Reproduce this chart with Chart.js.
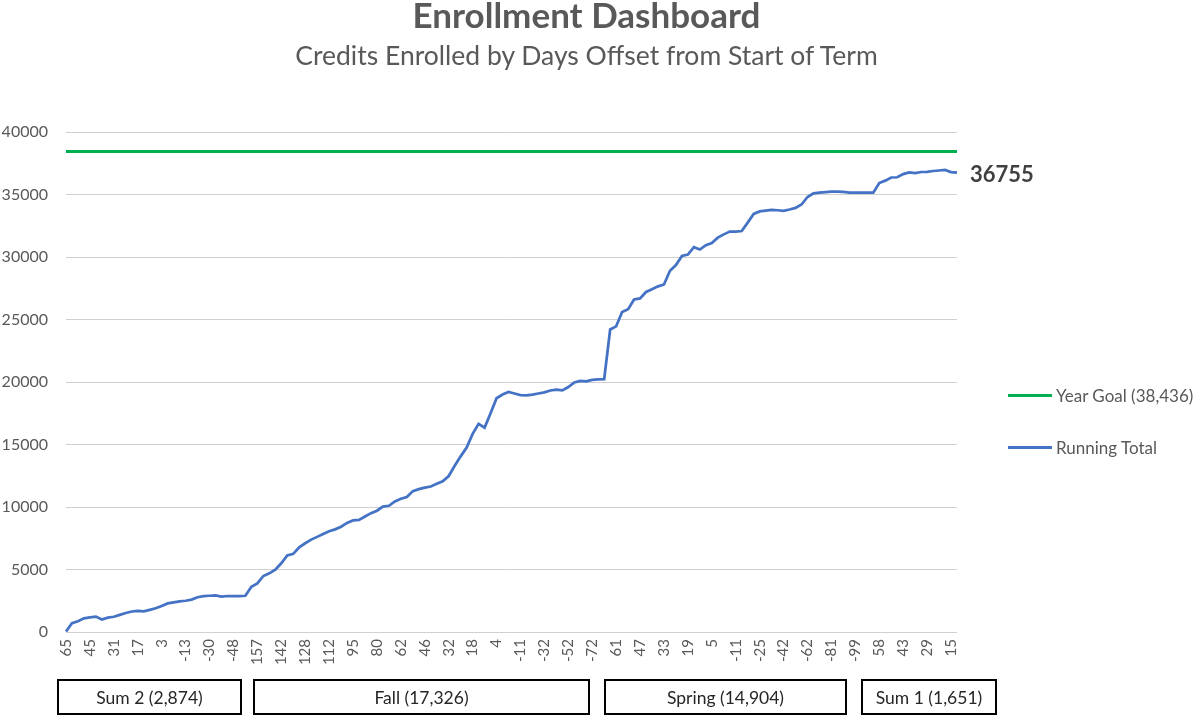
<!DOCTYPE html>
<html>
<head>
<meta charset="utf-8">
<script src="https://cdn.jsdelivr.net/npm/chart.js@4"></script>
<style>
  html, body { margin: 0; padding: 0; background: #fff; }
  #wrap { position: relative; width: 1195px; height: 715px; overflow: hidden; font-family: Lato, "Open Sans", sans-serif; }
  #c { position: absolute; left: 0; top: 0; }
  .title { position: absolute; left: 0; width: 1173px; text-align: center; color: #595959; white-space: nowrap; line-height: 1.2; }
  #t1 { top: -7px; font-size: 35px; font-weight: bold; }
  #t2 { top: 40px; font-size: 26.5px; }
  .box { position: absolute; top: 679px; border: 2px solid #000; box-sizing: border-box; height: 36px;
         display: flex; align-items: center; justify-content: center; font-size: 17.5px; color: #262626; white-space: nowrap; }
  .leg { position: absolute; left: 1008px; height: 20px; display: flex; align-items: center; font-size: 17px; color: #595959; white-space: nowrap; }
  .leg span.ln { display: inline-block; width: 44px; height: 3px; margin-right: 4px; }
</style>
</head>
<body>
<div id="wrap">
  <canvas id="c" width="1195" height="715"></canvas>
  <div class="title" id="t1">Enrollment Dashboard</div>
  <div class="title" id="t2">Credits Enrolled by Days Offset from Start of Term</div>
  <div id="legend"></div>
  <div id="boxes"></div>
</div>
<script>
// ---- data ----
const days = [
  65, 60, 55, 50, 45, 41, 38, 34, 31, 27, 24, 20, 17, 13, 10, 6, 3, -1, -5, -9,
  -13, -17, -21, -26, -30, -35, -39, -44, -48, -53, -58,
  161, 157, 153, 149, 146, 142, 139, 135, 132, 128, 124, 120, 116, 112, 108, 104, 99, 95, 91,
  87, 84, 80, 75, 71, 66, 62, 58, 54, 50, 46, 42, 39, 35, 32, 28, 25, 21, 18, 14,
  11, 7, 4, 0, -3, -7, -11, -16, -21, -27, -32, -37, -42, -47, -52, -57, -62, -67, -72, -77, -82,
  65, 61, 57, 54, 50, 47, 43, 40, 36, 33, 29, 26, 22, 19, 15, 12, 8, 5, 1, -3,
  -7, -11, -14, -18, -21, -25, -29, -34, -38, -42, -47, -52, -57, -62, -67, -72, -76, -81, -85, -90,
  -94, -99, -103, -107, -111,
  58, 54, 50, 47, 43, 39, 36, 32, 29, 25, 22, 18, 15, 11
];
const runningTotal = [
  40, 700, 860, 1090, 1170, 1230, 1000, 1150, 1220, 1370,
  1520, 1640, 1690, 1650, 1770, 1900, 2080, 2290, 2370, 2450,
  2500, 2590, 2780, 2870, 2900, 2920, 2830, 2880, 2880, 2880,
  2900, 3620, 3890, 4480, 4690, 4980, 5500, 6130, 6250, 6780,
  7100, 7390, 7610, 7840, 8060, 8210, 8420, 8730, 8930, 8970,
  9240, 9510, 9700, 10030, 10100, 10450, 10660, 10800, 11270, 11430,
  11550, 11640, 11860, 12050, 12480, 13300, 14050, 14750, 15850, 16650,
  16350, 17500, 18700, 19000, 19200, 19080, 18950, 18940, 18990, 19080,
  19170, 19320, 19380, 19330, 19600, 19960, 20080, 20060, 20170, 20210,
  20230, 24200, 24450, 25600, 25820, 26600, 26690, 27200, 27420, 27650,
  27800, 28900, 29350, 30080, 30200, 30780, 30600, 30950, 31110, 31550,
  31810, 32030, 32030, 32080, 32750, 33450, 33650, 33710, 33760, 33740,
  33700, 33800, 33930, 34200, 34800, 35090, 35150, 35190, 35230, 35230,
  35210, 35150, 35150, 35150, 35150, 35150, 35920, 36110, 36360, 36380,
  36630, 36760, 36720, 36800, 36810, 36880, 36920, 36960, 36790, 36755
];
const GOAL = 38436;
const yTickValues = [0, 5000, 10000, 15000, 20000, 25000, 30000, 35000, 40000];
const termNames = ['Sum 2', 'Fall', 'Spring', 'Sum 1'];
const termTotals = [2874, 17326, 14904, 1651];
const LABEL_EVERY = 4;

// ---- layout helpers (positions/styles) ----
const termBoxes = [[57, 185], [253, 337], [604, 243], [861, 136]];
const fmt = n => n.toLocaleString('en-US');

const boxesEl = document.getElementById('boxes');
termNames.forEach((n, i) => {
  const d = document.createElement('div');
  d.className = 'box';
  d.style.left = termBoxes[i][0] + 'px';
  d.style.width = termBoxes[i][1] + 'px';
  d.textContent = n + ' (' + fmt(termTotals[i]) + ')';
  boxesEl.appendChild(d);
});

const legendItems = [
  { text: 'Year Goal (' + fmt(GOAL) + ')', color: '#00B050', top: 385 },
  { text: 'Running Total', color: '#4472C4', top: 437 }
];
const legEl = document.getElementById('legend');
legendItems.forEach(it => {
  const d = document.createElement('div');
  d.className = 'leg';
  d.style.top = it.top + 'px';
  d.innerHTML = '<span class="ln" style="background:' + it.color + '"></span>';
  d.appendChild(document.createTextNode(it.text));
  legEl.appendChild(d);
});

const endLabel = {
  id: 'endLabel',
  afterDatasetsDraw(chart) {
    const meta = chart.getDatasetMeta(1);
    const pts = meta.data;
    const last = pts[pts.length - 1];
    const ds = chart.data.datasets[1].data;
    const ctx = chart.ctx;
    ctx.save();
    ctx.font = 'bold 22px Lato, "Open Sans", sans-serif';
    ctx.fillStyle = '#404040';
    ctx.textAlign = 'left';
    ctx.textBaseline = 'middle';
    ctx.fillText(String(ds[ds.length - 1]), last.x + 13, last.y + 2);
    ctx.restore();
  }
};

new Chart(document.getElementById('c'), {
  type: 'line',
  data: {
    labels: days,
    datasets: [
      { label: 'Year Goal', data: days.map(() => GOAL), borderColor: '#00B050', borderWidth: 3, pointRadius: 0, tension: 0 },
      { label: 'Running Total', data: runningTotal, borderColor: '#4472C4', borderWidth: 2.75, pointRadius: 0, tension: 0 }
    ]
  },
  options: {
    responsive: false,
    devicePixelRatio: 1,
    animation: false,
    layout: { padding: { top: 132, right: 238, left: 0, bottom: 0 } },
    plugins: { legend: { display: false }, tooltip: { enabled: false }, title: { display: false } },
    scales: {
      x: {
        type: 'category',
        offset: false,
        grid: { display: false, drawTicks: false },
        border: { display: false },
        ticks: {
          autoSkip: false, maxRotation: 90, minRotation: 90, padding: 7,
          color: '#595959', font: { size: 15, family: 'Lato, "Open Sans", sans-serif' },
          callback: function (v, i) { return i % LABEL_EVERY === 0 ? String(this.getLabelForValue(v)) : ''; }
        },
        afterFit(s) { s.height = 83; }
      },
      y: {
        min: 0, max: 40000,
        afterBuildTicks(s) { s.ticks = yTickValues.map(v => ({ value: v })); },
        grid: { color: '#d0d0d0', lineWidth: 1, drawTicks: false },
        border: { display: false },
        ticks: { padding: 18, color: '#595959', font: { size: 16, family: 'Lato, "Open Sans", sans-serif' }, callback: v => String(v) },
        afterFit(s) { s.width = 66; }
      }
    }
  },
  plugins: [endLabel]
});
</script>
</body>
</html>
